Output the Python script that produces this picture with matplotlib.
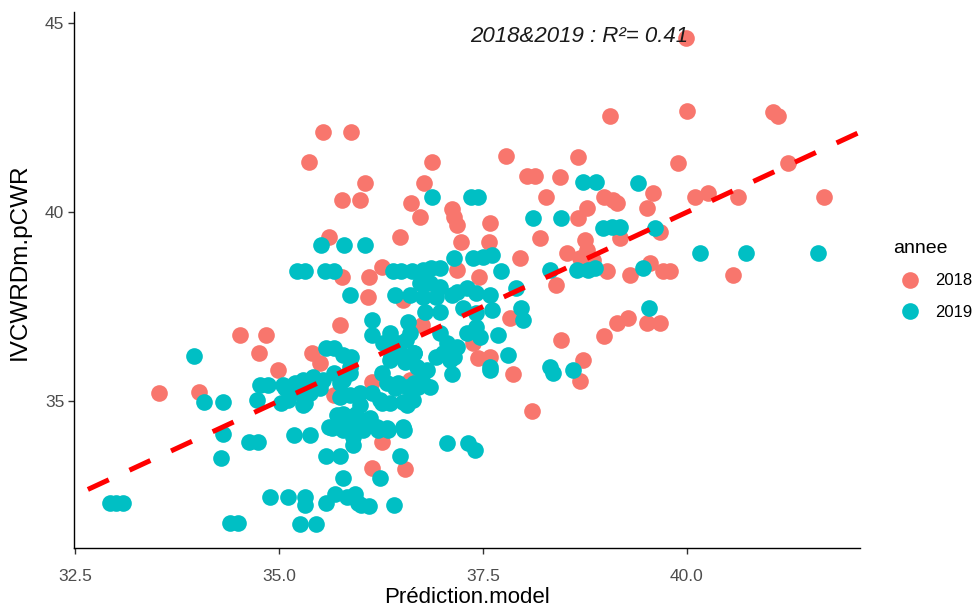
import numpy as np
import matplotlib
matplotlib.use("Agg")
import matplotlib.pyplot as plt
from matplotlib.lines import Line2D


# observed vs predicted, one pair of arrays per year
pred_2018 = [
    39.99, 35.54, 35.89, 35.37, 36.05, 35.77, 35.99, 39.06, 37.78, 36.88,
    38.67, 38.04, 38.14, 38.44, 36.78, 36.62, 38.27, 38.99, 39.09, 38.77,
    37.12, 40.00, 41.06, 41.12, 39.89, 41.24, 39.14, 39.58, 40.10, 40.26,
    40.62, 41.68, 39.51, 39.18, 39.67, 39.55, 39.30, 39.02, 39.71, 39.79,
    40.57, 39.14, 39.28, 39.51, 39.67, 38.99, 35.62, 35.77, 35.75, 34.53,
    34.84, 34.76, 35.40, 34.99, 35.50, 33.53, 34.02, 35.67, 36.14, 36.61,
    37.87, 38.69, 38.10, 36.26, 36.14, 36.55, 36.73, 37.14, 37.18, 37.59,
    38.67, 36.48, 37.23, 37.57, 38.20, 38.75, 36.26, 36.11, 37.18, 37.45,
    37.95, 38.53, 38.69, 38.77, 38.85, 38.40, 36.09, 36.52, 37.83, 36.75,
    37.38, 38.46, 37.44, 37.59, 38.73,
]
obs_2018 = [
    44.62, 42.13, 42.13, 41.34, 40.77, 40.32, 40.32, 42.55, 41.50, 41.34,
    41.47, 40.97, 40.97, 40.94, 40.77, 40.25, 40.41, 40.41, 40.32, 40.11,
    40.09, 42.68, 42.66, 42.55, 41.31, 41.31, 40.25, 40.52, 40.41, 40.50,
    40.41, 40.41, 40.11, 39.31, 39.48, 38.65, 38.34, 38.43, 38.43, 38.43,
    38.34, 37.06, 37.19, 37.06, 37.06, 36.72, 39.34, 38.29, 37.01, 36.75,
    36.75, 36.26, 36.26, 35.82, 36.01, 35.20, 35.25, 35.16, 35.51, 35.56,
    35.72, 35.54, 34.74, 33.92, 33.22, 33.19, 39.88, 39.88, 39.66, 39.71,
    39.84, 39.34, 39.22, 39.22, 39.31, 39.26, 38.56, 38.28, 38.47, 38.28,
    38.78, 38.91, 38.78, 39.00, 38.74, 38.07, 37.76, 37.68, 37.19, 37.01,
    36.53, 36.62, 36.13, 36.17, 36.09,
]

pred_2019 = [
    36.88, 37.35, 37.44, 38.73, 38.89, 39.40, 35.52, 35.80, 36.05, 35.22,
    35.32, 35.56, 35.67, 35.87, 33.96, 35.58, 35.67, 35.79, 35.89, 34.08,
    34.32, 34.77, 34.87, 34.73, 35.05, 35.13, 35.03, 35.30, 35.42, 35.32,
    35.26, 35.50, 35.79, 35.87, 34.31, 34.64, 34.75, 35.18, 35.38, 35.65,
    35.79, 35.91, 35.91, 34.29, 35.58, 35.75, 35.79, 32.93, 33.01, 33.09,
    34.89, 35.11, 35.32, 35.32, 35.58, 35.69, 35.83, 35.93, 35.97, 34.40,
    34.50, 35.26, 35.45, 36.26, 36.77, 36.85, 37.12, 37.59, 38.36, 38.61,
    35.87, 35.99, 36.14, 36.26, 36.42, 36.57, 36.71, 36.57, 35.79, 35.95,
    36.03, 36.22, 36.34, 36.53, 37.06, 37.32, 37.40, 36.48, 36.24, 36.01,
    36.11, 36.41, 38.12, 38.46, 38.97, 39.08, 39.18, 36.40, 36.50, 36.63,
    36.77, 36.87, 36.97, 37.14, 37.38, 37.50, 37.61, 37.72, 38.32, 38.65,
    38.79, 38.87, 36.42, 36.73, 36.85, 36.97, 36.77, 36.93, 37.12, 37.30,
    37.59, 37.91, 36.79, 36.97, 37.26, 37.61, 37.97, 37.99, 36.14, 36.14,
    36.58, 36.36, 36.46, 36.28, 36.65, 36.38, 36.97, 37.06, 37.01, 37.18,
    37.14, 37.30, 37.42, 37.46, 37.69, 37.81, 37.59, 38.32, 35.87, 39.61,
    40.16, 40.72, 41.61, 39.46, 39.53, 36.61, 36.48, 36.36, 36.54, 36.69,
    36.81, 35.54, 35.67, 35.75, 36.32, 36.46, 36.65, 36.77, 35.07, 35.20,
    35.11, 35.30, 35.38, 35.75, 36.24, 36.36, 36.52, 36.64, 35.99, 35.71,
    35.83, 35.99, 36.12, 35.62, 35.75, 35.89, 36.03, 36.20, 36.32, 36.52,
    36.61, 37.18, 37.42, 37.42, 36.56, 36.49, 36.66, 37.10, 36.93,
]
obs_2019 = [
    40.41, 40.41, 40.41, 40.81, 40.81, 40.78, 39.13, 39.13, 39.13, 38.43,
    38.43, 38.43, 38.43, 37.81, 36.19, 36.40, 36.40, 36.22, 36.17, 34.98,
    34.98, 35.42, 35.42, 35.03, 35.42, 35.29, 34.94, 35.56, 35.64, 34.94,
    35.20, 35.34, 35.56, 35.73, 34.14, 33.92, 33.92, 34.10, 34.10, 34.28,
    34.23, 34.05, 33.83, 33.48, 33.54, 33.54, 32.95, 32.29, 32.29, 32.29,
    32.46, 32.46, 32.46, 32.24, 32.29, 32.55, 32.46, 32.55, 32.29, 31.76,
    31.76, 31.74, 31.74, 35.73, 35.73, 35.38, 35.72, 35.82, 35.73, 35.82,
    35.16, 35.20, 35.20, 34.94, 35.34, 35.38, 35.38, 34.89, 34.67, 34.67,
    34.23, 34.23, 34.23, 34.23, 33.90, 33.90, 33.70, 33.54, 32.95, 32.24,
    32.22, 32.24, 39.84, 39.84, 39.57, 39.62, 39.62, 38.43, 38.43, 38.43,
    38.47, 38.52, 38.52, 38.78, 38.78, 38.82, 38.87, 38.43, 38.47, 38.47,
    38.47, 38.52, 37.81, 38.12, 38.12, 38.03, 37.76, 37.76, 37.81, 37.99,
    37.81, 37.99, 37.37, 37.37, 37.46, 37.41, 37.46, 37.15, 37.15, 36.75,
    37.10, 36.79, 36.53, 36.53, 36.26, 36.17, 36.79, 36.53, 36.26, 36.44,
    36.17, 36.79, 36.97, 36.70, 36.75, 36.22, 35.91, 35.91, 35.91, 39.57,
    38.91, 38.91, 38.91, 38.52, 37.46, 36.79, 36.26, 36.09, 36.04, 35.91,
    35.82, 35.56, 35.73, 35.47, 35.47, 35.47, 35.47, 35.47, 35.34, 35.47,
    35.03, 34.89, 35.20, 35.11, 35.03, 34.94, 34.98, 35.03, 34.89, 34.63,
    34.58, 34.50, 34.54, 34.32, 34.32, 34.32, 34.28, 34.32, 34.28, 34.32,
    37.81, 37.90, 37.85, 37.32, 36.62, 36.26, 36.26, 36.09, 36.17,
]

years = ["2018", "2019"]
year_colors = ["#F8766D", "#00BFC4"]

x_ticks = [32.5, 35.0, 37.5, 40.0]
y_ticks = [35, 40, 45]
r2_label = "2018&2019 : R\u00b2= 0.41"


plt.rcParams["font.family"] = ["Liberation Sans", "DejaVu Sans"]
plt.rcParams["lines.scale_dashes"] = False

fig = plt.figure(figsize=(9.75, 6.07), dpi=100)
ax = fig.add_axes([0.0759, 0.0972, 0.8061, 0.8831])


ax.scatter(pred_2018, obs_2018, s=144, color=year_colors[0], linewidths=0, zorder=2)
ax.scatter(pred_2019, obs_2019, s=144, color=year_colors[1], linewidths=0, zorder=3)

ax.set_xlim(32.49, 42.12)
ax.set_ylim(31.11, 45.30)

# 1:1 reference line across the whole panel
x_line = np.array(ax.get_xlim())
ax.plot(x_line, x_line, color="#FF0000", lw=3.6,
        linestyle=(22, (16.6, 16.4)), solid_capstyle="butt",
        dash_capstyle="butt", zorder=4)

ax.text(38.68, 44.64, r2_label, fontsize=16, fontstyle="italic",
        color="#1a1a1a", ha="center", va="center", zorder=5)


ax.set_xticks(x_ticks)
ax.set_xticklabels([f"{t:.1f}" for t in x_ticks])
ax.set_yticks(y_ticks)
ax.tick_params(axis="both", length=4, width=1, color="#333333",
               labelsize=12.5, labelcolor="#4D4D4D", pad=3)
ax.tick_params(axis="x", pad=11)

for side in ["top", "right"]:
    ax.spines[side].set_visible(False)
for side in ["left", "bottom"]:
    ax.spines[side].set_linewidth(1.0)
    ax.spines[side].set_color("black")

ax.set_xlabel("Pr\u00e9diction.model", fontsize=16)
ax.set_ylabel("IVCWRDm.pCWR", fontsize=17.5)
ax.xaxis.set_label_coords(0.5, -0.072)
ax.yaxis.set_label_coords(-0.055, 0.534)


handles = [
    Line2D([], [], linestyle="none", marker="o", markersize=12,
           markerfacecolor=c, markeredgewidth=0)
    for c in year_colors
]
fig.legend(handles, years, title="annee", loc="upper left",
           bbox_to_anchor=(0.916, 0.605), frameon=False,
           fontsize=12, title_fontsize=14, handlelength=2.0,
           handletextpad=0.5, labelspacing=1.0, borderaxespad=0,
           borderpad=0, alignment="left")


fig.savefig("out.png", dpi=100)
